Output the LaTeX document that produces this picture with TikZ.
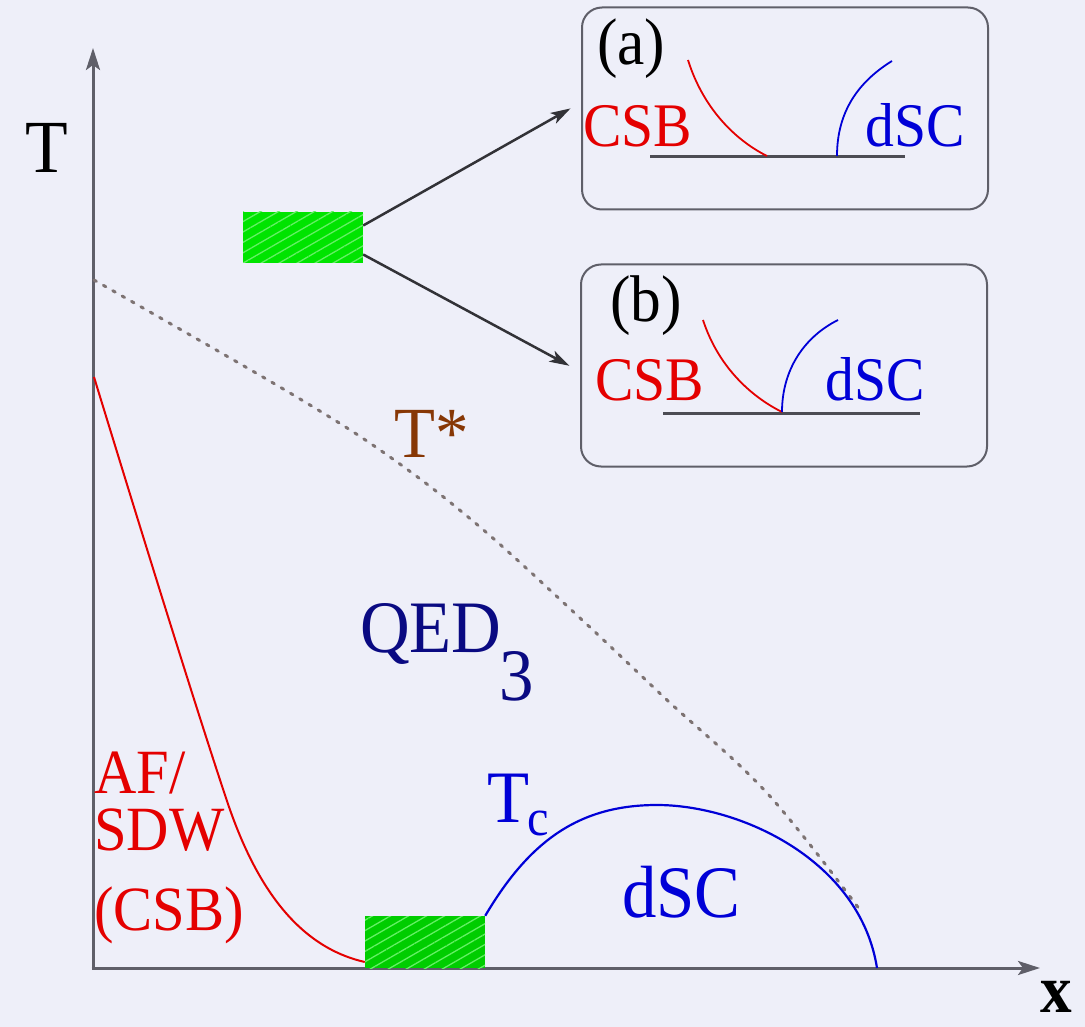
\documentclass[tikz,border=0pt]{standalone}
\usepackage{fontspec}
\setmainfont[FakeStretch=0.93]{Liberation Serif}
\usetikzlibrary{arrows.meta,patterns.meta}
\definecolor{bg}{RGB}{238,239,249}
\definecolor{axisgray}{RGB}{95,95,105}
\definecolor{arrowgray}{RGB}{50,50,55}
\definecolor{dotgray}{RGB}{125,115,115}
\definecolor{myred}{RGB}{228,0,0}
\definecolor{myblue}{RGB}{0,0,215}
\definecolor{mynavy}{RGB}{10,10,130}
\definecolor{mybrown}{RGB}{135,55,5}
\definecolor{gtop}{RGB}{0,228,0}
\definecolor{gbot}{RGB}{0,205,0}
\definecolor{ghatch}{RGB}{100,240,100}
\newcommand{\myfs}[1]{\fontsize{#1}{#1}\selectfont}
\begin{document}
\begin{tikzpicture}[x=1pt,y=-1pt,
  lbl/.style={inner sep=0pt, anchor=base west},
  panel/.style={draw=axisgray, line width=2pt, rounded corners=20pt, fill=bg,
    minimum width=406pt, minimum height=202pt, inner sep=0pt},
  greenbox/.style={minimum width=120pt, minimum height=51pt, inner sep=0pt,
    postaction={pattern={Lines[angle=30,distance=9pt,line width=1.3pt]}, pattern color=ghatch}},
  axis/.style={draw=axisgray, line width=3pt, -{Stealth[length=22pt,width=14pt,inset=5pt]}},
  conn/.style={draw=arrowgray, line width=2.5pt, -{Stealth[length=20pt,width=12pt,inset=5pt]}},
  baseline/.style={draw=axisgray!80!black, line width=3pt},
]
\useasboundingbox (0,0) rectangle (1085,1027);
\fill[bg] (0,0) rectangle (1085,1027);

% axes
\coordinate (origin) at (93,968);
\coordinate (ytip) at (93,48);
\coordinate (xtip) at (1040,968);
\draw[axis] (origin) -- (ytip);
\draw[axis] ([xshift=-1.5pt]origin) -- (xtip);
\node[lbl] (tlabel) at (25,173) {\myfs{75}T};
\node[lbl] (xlabel) at (1040,1012) {\myfs{68}\bfseries x};

% T* crossover (dotted)
\draw[dotgray, line width=3pt, dash pattern=on 2.8pt off 8pt, line cap=round]
  plot[smooth, tension=0.6] coordinates {(94,280) (290,393) (390,457) (480,527) (580,618) (667,700) (767,793) (860,910)};
\node[lbl, text=mybrown] (tstar) at (394,457) {\myfs{72}T*};

% green boxes
\node[greenbox, fill=gtop] (g1) at (303,237.5) {};
\node[greenbox, fill=gbot, minimum height=52pt] (g2) at (425,942) {};

% AF/SDW boundary
\draw[myred, line width=2pt] (94,377) .. controls (150,560) and (200,720) .. (225,795)
  .. controls (250,872) and (290,945) .. (g2.west |- 0,962);
\node[lbl, text=myred] (af) at (94,793) {\myfs{63}AF/};
\node[lbl, text=myred] (sdw) at (94,850) {\myfs{63}SDW};
\node[lbl, text=myred] (csb) at (94,930) {\myfs{63}(CSB)};

% dSC dome
\draw[myblue, line width=2.2pt] (g2.north east) .. controls (530,840) and (580,805) .. (657,805)
  .. controls (740,805) and (860,860) .. (877,968);
\node[lbl, text=myblue] (tc) at (487,822) {\myfs{74}T\kern-2pt\lower13pt\hbox{\myfs{52}c}};
\node[lbl, text=myblue] (dsc) at (622,917) {\myfs{74}dSC};
\node[lbl, text=mynavy] (qed) at (360,652) {\myfs{74}QED\kern-2pt\lower48pt\hbox{3}};

% panels
\node[panel] (boxa) at (785,108.5) {};
\node[panel] (boxb) at (784,365.5) {};
\draw[conn, shorten >=12pt] ([yshift=12pt]g1.east) -- ([yshift=6pt]boxa.west);
\draw[conn, shorten >=12pt] ([yshift=-17pt]g1.east) -- ([yshift=-6pt]boxb.west);

% panel (a)
\node[lbl] (alab) at (597,65) {\myfs{66}(a)};
\node[lbl, text=myred] (acsb) at (583,147) {\myfs{62}CSB};
\node[lbl, text=myblue] (adsc) at (865,147) {\myfs{62}dSC};
\coordinate (al) at (650,157);
\coordinate (ar) at (905,157);
\draw[baseline] (al) -- (ar);
\draw[myred, line width=1.8pt] (688,60) .. controls (703,108) and (735,140) .. (767,156);
\draw[myblue, line width=1.8pt] (837,156) .. controls (837,112) and (858,82) .. (892,61);

% panel (b)
\node[lbl] (blab) at (610,321) {\myfs{66}(b)};
\node[lbl, text=myred] (bcsb) at (595,400) {\myfs{62}CSB};
\node[lbl, text=myblue] (bdsc) at (825,400) {\myfs{62}dSC};
\coordinate (bl) at (663,413);
\coordinate (br) at (920,413);
\coordinate (bm) at (782,412);
\draw[baseline] (bl) -- (br);
\draw[myred, line width=1.8pt] (703,320) .. controls (718,366) and (750,396) .. (bm);
\draw[myblue, line width=1.8pt] (bm) .. controls (782,370) and (804,337) .. (838,320);
\end{tikzpicture}
\end{document}
